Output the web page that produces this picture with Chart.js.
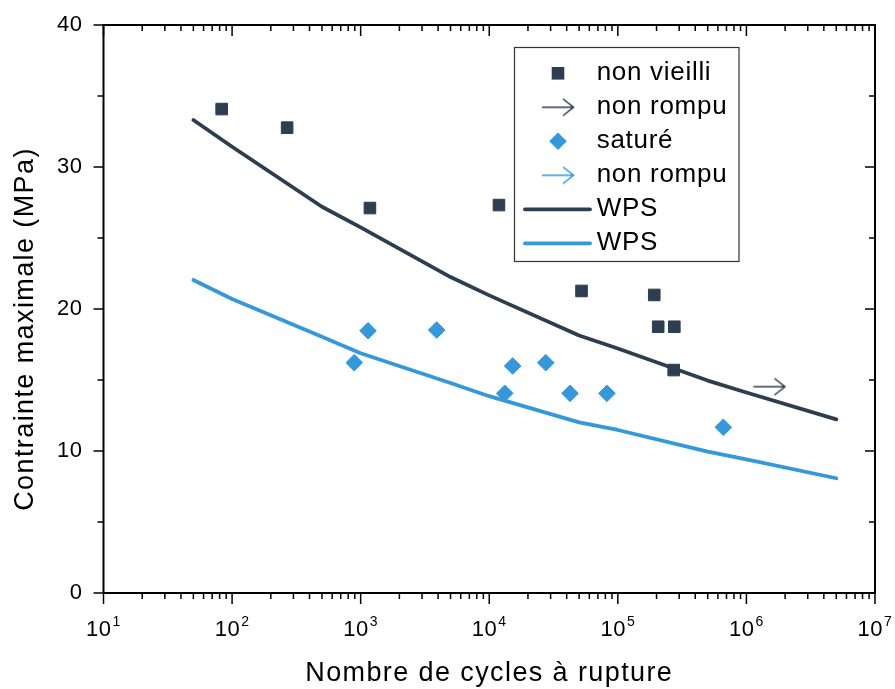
<!DOCTYPE html>
<html><head><meta charset="utf-8">
<script src="https://cdn.jsdelivr.net/npm/chart.js@4/dist/chart.umd.min.js"></script>
<style>html,body{margin:0;padding:0;background:#fff;overflow:hidden}</style>
</head><body>
<canvas id="c" width="895" height="689" style="display:block;width:895px;height:689px"></canvas>
<script>
// ---- data ----
const nonVieilliCycles = [83, 268, 1180, 11900, 52200, 192000, 206000, 275000, 272000];
const nonVieilliStress = [34.08, 32.77, 27.11, 27.32, 21.27, 20.99, 18.75, 18.75, 15.70];
const nonRompuDarkCycles = [1510000];
const nonRompuDarkStress = [14.53];
const satureCycles = [891, 1140, 3900, 13200, 15200, 27500, 42500, 82200, 661000];
const satureStress = [16.22, 18.47, 18.52, 14.06, 15.99, 16.22, 14.06, 14.06, 11.67];
const nonRompuLightCycles = [];
const nonRompuLightStress = [];
const wpsCycles = [50, 100, 500, 1000, 5000, 10000, 50000, 100000, 500000, 1000000, 5000000];
const wpsDarkStress = [33.31, 31.43, 27.20, 25.75, 22.25, 20.96, 18.13, 17.22, 14.96, 14.12, 12.23];
const wpsLightStress = [22.04, 20.70, 18.05, 16.88, 14.79, 13.86, 12.02, 11.48, 9.95, 9.41, 8.08];
const legendLabels = ['non vieilli', 'non rompu', 'saturé', 'non rompu', 'WPS', 'WPS'];
const xTickValues = [10, 100, 1e3, 1e4, 1e5, 1e6, 1e7];
const xTickBase = ['10', '10', '10', '10', '10', '10', '10'];
const xTickExp = ['1', '2', '3', '4', '5', '6', '7'];
const yTickValues = [0, 10, 20, 30, 40];
const yTickLabels = ['0', '10', '20', '30', '40'];
const yMinorValues = [5, 15, 25, 35];
const xTitle = 'Nombre de cycles à rupture';
const yTitle = 'Contrainte maximale (MPa)';

const DARK = '#2c3e50';
const LIGHT = '#3498db';
const FONT = '"Liberation Sans", Arial, sans-serif';

function pts(xs, ys) { return xs.map((v, i) => ({x: v, y: ys[i]})); }

function makeArrow(color) {
  const c = document.createElement('canvas');
  c.width = 34; c.height = 20;
  const g = c.getContext('2d');
  g.strokeStyle = color; g.lineWidth = 1.6; g.lineCap = 'round';
  g.beginPath();
  g.moveTo(1.5, 10); g.lineTo(32.5, 10);
  g.moveTo(22.5, 2); g.lineTo(32.5, 10); g.lineTo(22.5, 18);
  g.stroke();
  return c;
}
const arrowDark = makeArrow(DARK);
const arrowLight = makeArrow(LIGHT);

const decor = {
  id: 'decor',
  afterDraw(chart) {
    const {ctx, chartArea: a, scales: {x, y}} = chart;
    ctx.save();
    // frame
    ctx.strokeStyle = '#000';
    ctx.lineWidth = 2;
    ctx.strokeRect(a.left, a.top, a.right - a.left, a.bottom - a.top);
    ctx.lineWidth = 1.5;
    ctx.beginPath();
    // x ticks (major + minor), bottom outward, top inward
    for (let d = 0; d < xTickValues.length; d++) {
      const v = xTickValues[d];
      const px = x.getPixelForValue(v);
      ctx.moveTo(px, a.bottom); ctx.lineTo(px, a.bottom + 11);
      ctx.moveTo(px, a.top); ctx.lineTo(px, a.top + 11);
      if (d < xTickValues.length - 1) {
        for (let m = 2; m <= 9; m++) {
          const mx = x.getPixelForValue(v * m);
          ctx.moveTo(mx, a.bottom); ctx.lineTo(mx, a.bottom + 6);
          ctx.moveTo(mx, a.top); ctx.lineTo(mx, a.top + 6);
        }
      }
    }
    // y ticks, left outward, right inward
    yTickValues.forEach(v => {
      const py = y.getPixelForValue(v);
      ctx.moveTo(a.left - 10, py); ctx.lineTo(a.left, py);
      ctx.moveTo(a.right, py); ctx.lineTo(a.right - 10, py);
    });
    yMinorValues.forEach(v => {
      const py = y.getPixelForValue(v);
      ctx.moveTo(a.left - 6, py); ctx.lineTo(a.left, py);
      ctx.moveTo(a.right, py); ctx.lineTo(a.right - 6, py);
    });
    ctx.stroke();

    // tick labels
    ctx.fillStyle = '#000';
    ctx.letterSpacing = '0.5px';
    ctx.textBaseline = 'middle';
    ctx.textAlign = 'right';
    ctx.font = '22px ' + FONT;
    yTickValues.forEach((v, i) => {
      ctx.fillText(yTickLabels[i], a.left - 21, y.getPixelForValue(v));
    });
    ctx.textAlign = 'left';
    ctx.textBaseline = 'alphabetic';
    xTickValues.forEach((v, i) => {
      const px = x.getPixelForValue(v);
      ctx.font = '22px ' + FONT;
      const wb = ctx.measureText(xTickBase[i]).width;
      ctx.font = '14px ' + FONT;
      const we = ctx.measureText(xTickExp[i]).width;
      const start = px - (wb + we + 1) / 2;
      ctx.font = '22px ' + FONT;
      ctx.fillText(xTickBase[i], start, a.bottom + 43);
      ctx.font = '14px ' + FONT;
      ctx.fillText(xTickExp[i], start + wb + 1, a.bottom + 33);
    });

    // axis titles
    ctx.letterSpacing = '1.4px';
    ctx.font = '27px ' + FONT;
    ctx.textAlign = 'center';
    ctx.textBaseline = 'alphabetic';
    ctx.fillText(xTitle, (a.left + a.right) / 2, 681);
    ctx.save();
    ctx.translate(33, 329);
    ctx.rotate(-Math.PI / 2);
    ctx.fillText(yTitle, 0, 0);
    ctx.restore();

    // legend
    const L = {left: 514.5, top: 47.5, right: 739, bottom: 261.5};
    ctx.fillStyle = '#fff';
    ctx.fillRect(L.left, L.top, L.right - L.left, L.bottom - L.top);
    ctx.strokeStyle = '#333';
    ctx.lineWidth = 1.2;
    ctx.strokeRect(L.left, L.top, L.right - L.left, L.bottom - L.top);
    const sx = 558;
    chart.data.datasets.forEach((ds, i) => {
      const cy = 73.3 + i * 34;
      if (ds.showLine) {
        ctx.strokeStyle = ds.borderColor;
        ctx.lineWidth = ds.borderWidth;
        ctx.lineCap = 'round';
        ctx.beginPath(); ctx.moveTo(525, cy); ctx.lineTo(590, cy); ctx.stroke();
      } else if (ds.pointStyle === 'rect') {
        ctx.fillStyle = ds.backgroundColor;
        const s = ds.pointRadius * Math.SQRT1_2;
        ctx.fillRect(sx - s - 0.5, cy - s - 0.5, 2 * s + 1, 2 * s + 1);
      } else if (ds.pointStyle === 'rectRot') {
        ctx.fillStyle = ds.backgroundColor;
        const r = ds.pointRadius + 0.5;
        ctx.beginPath();
        ctx.moveTo(sx - r, cy); ctx.lineTo(sx, cy - r); ctx.lineTo(sx + r, cy); ctx.lineTo(sx, cy + r);
        ctx.closePath(); ctx.fill();
      } else if (ds.pointStyle instanceof HTMLCanvasElement) {
        ctx.drawImage(ds.pointStyle, sx - ds.pointStyle.width / 2, cy - ds.pointStyle.height / 2);
      }
      ctx.fillStyle = '#000';
      ctx.letterSpacing = '0.7px';
      ctx.font = '26px ' + FONT;
      ctx.textAlign = 'left';
      ctx.fillText(ds.label, 596.7, cy + 7);
    });
    ctx.restore();
  }
};

new Chart(document.getElementById('c'), {
  type: 'scatter',
  data: {
    datasets: [
      {label: legendLabels[0], data: pts(nonVieilliCycles, nonVieilliStress), pointStyle: 'rect',
       pointRadius: 8.2, backgroundColor: DARK, borderColor: DARK, borderWidth: 1, showLine: false},
      {label: legendLabels[1], data: pts(nonRompuDarkCycles, nonRompuDarkStress), pointStyle: arrowDark,
       pointRadius: 10, backgroundColor: DARK, borderColor: DARK, showLine: false},
      {label: legendLabels[2], data: pts(satureCycles, satureStress), pointStyle: 'rectRot',
       pointRadius: 8.3, backgroundColor: LIGHT, borderColor: LIGHT, borderWidth: 1, showLine: false},
      {label: legendLabels[3], data: pts(nonRompuLightCycles, nonRompuLightStress), pointStyle: arrowLight,
       pointRadius: 10, backgroundColor: LIGHT, borderColor: LIGHT, showLine: false},
      {label: legendLabels[4], data: pts(wpsCycles, wpsDarkStress), showLine: true, pointRadius: 0,
       borderColor: DARK, backgroundColor: DARK, borderWidth: 3.8, tension: 0, fill: false,
       borderCapStyle: 'round', borderJoinStyle: 'round'},
      {label: legendLabels[5], data: pts(wpsCycles, wpsLightStress), showLine: true, pointRadius: 0,
       borderColor: LIGHT, backgroundColor: LIGHT, borderWidth: 3.8, tension: 0, fill: false,
       borderCapStyle: 'round', borderJoinStyle: 'round'}
    ]
  },
  options: {
    responsive: false,
    animation: false,
    devicePixelRatio: 1,
    layout: {padding: {left: 103.5, right: 20, top: 25, bottom: 96}},
    plugins: {legend: {display: false}, tooltip: {enabled: false}},
    events: [],
    scales: {
      x: {type: 'logarithmic', min: 10, max: 1e7, display: false},
      y: {type: 'linear', min: 0, max: 40, display: false}
    }
  },
  plugins: [decor]
});
</script>
</body></html>
